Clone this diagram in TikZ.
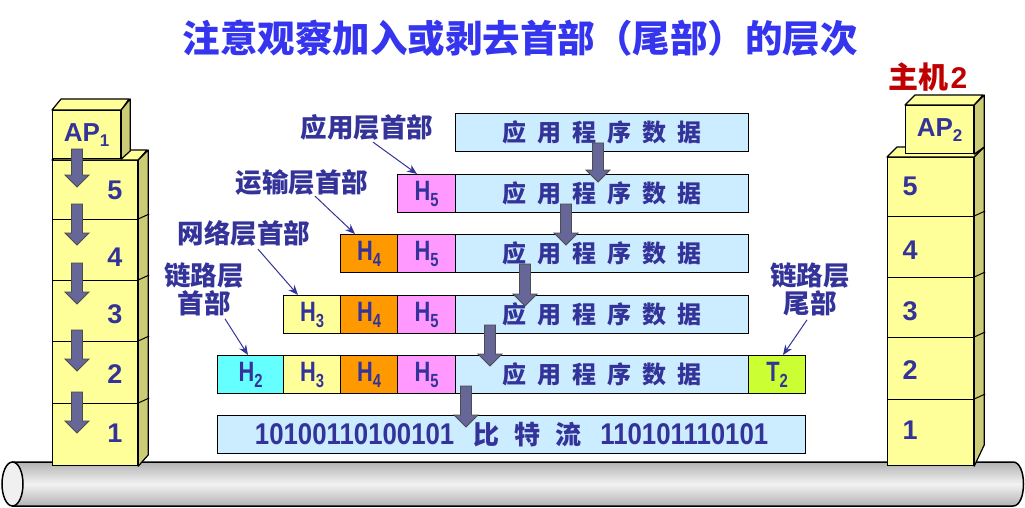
\documentclass[tikz,border=0pt]{standalone}
\usepackage{fontspec}
\usepackage{graphicx}
\setmainfont{Liberation Sans}
\newfontfamily\cjk{Noto Sans CJK SC}
\usetikzlibrary{arrows.meta,calc}
\definecolor{txt}{HTML}{333399}
\definecolor{ttl}{HTML}{3535F0}
\definecolor{redt}{HTML}{C00000}
\definecolor{stk}{HTML}{FFFF99}
\definecolor{stkside}{HTML}{CCCC77}
\definecolor{datac}{HTML}{CCECFF}
\definecolor{hfive}{HTML}{FF99FF}
\definecolor{hfour}{HTML}{FF9900}
\definecolor{hthree}{HTML}{FFFF99}
\definecolor{htwo}{HTML}{66FFFF}
\definecolor{ttwo}{HTML}{CCFF33}
\definecolor{arrc}{HTML}{666699}
\newcommand\hl[2]{\scalebox{0.78}[1]{\fontsize{28}{28}\selectfont\bfseries #1\raisebox{-6pt}{\fontsize{19}{19}\selectfont #2}}}
\newcommand\gp{\hspace{11pt}}
\newcommand\yy{{\cjk\bfseries\fontsize{24}{24}\selectfont 应\gp 用\gp 程\gp 序\gp 数\gp 据}}
\newcommand\darr[3]{\filldraw[arrst] (#1-5.5,#2) -- (#1+5.5,#2) -- (#1+5.5,#3-12) -- (#1+12,#3-12) -- (#1,#3) -- (#1-12,#3-12) -- (#1-5.5,#3-12) -- cycle;}
\begin{document}
\begin{tikzpicture}[x=1pt,y=-1pt,
  cell/.style={draw=black, line width=1.2pt, inner sep=0pt, anchor=north west, minimum height=38, text=txt},
  layer/.style={draw=black, line width=1.2pt, fill=stk, inner sep=0pt, anchor=north west, text=txt},
  sidef/.style={draw=black, line width=1.2pt, fill=stkside, line join=round},
  topf/.style={draw=black, line width=1.2pt, fill=stk, line join=round},
  tick/.style={draw=black, line width=1pt},
  num/.style={text=txt, font=\fontsize{27}{27}\selectfont\bfseries, inner sep=0pt},
  lbl/.style={text=txt, font=\cjk\bfseries\fontsize{26.5}{28}\selectfont, align=center, inner sep=0pt},
  la/.style={draw=txt, line width=1pt, -{Stealth[length=10pt,width=8pt]}},
  arrst/.style={fill=arrc, draw=black!70, line width=0.8pt, line join=miter}]
\useasboundingbox (0,0) rectangle (1025,508);

% title
\node[text=ttl, font=\cjk\bfseries\fontsize{37.5}{38}\selectfont, inner sep=0pt] (title) at (520,38) {注意观察加入或剥去首部（尾部）的层次};
\node[text=redt, inner sep=0pt] (host2) at (928,77) {{\cjk\bfseries\fontsize{30}{30}\selectfont 主机}\hspace{2pt}{\fontsize{30}{30}\selectfont\bfseries 2}};

% pipe
\shade[top color=gray!60, bottom color=gray!60, middle color=gray!10]
  (12,462) -- (1013,462) .. controls (1027,462) and (1027,506) .. (1013,506) -- (12,506) -- cycle;
\draw[line width=1.5pt] (12,462) -- (1013,462) .. controls (1027,462) and (1027,506) .. (1013,506) -- (12,506);
\draw[line width=1.5pt, fill=gray!12] (12.5,484) ellipse [x radius=10.5, y radius=22];

% left stack
\node[layer, minimum width=85, minimum height=59] (L5) at (52,160) {};
\node[layer, minimum width=85, minimum height=61] (L4) at (52,219) {};
\node[layer, minimum width=85, minimum height=61] (L3) at (52,280) {};
\node[layer, minimum width=85, minimum height=62] (L2) at (52,341) {};
\node[layer, minimum width=85, minimum height=62] (L1) at (52,403) {};
\filldraw[topf] (L5.north west) -- ++(10,-10) -- ++(85,0) -- (L5.north east) -- cycle;
\filldraw[sidef] (L5.north east) -- ++(10,-10) -- ++(0,305) -- (L1.south east) -- cycle;
\draw[tick] (L4.north east) -- ++(11,-5);
\draw[tick] (L3.north east) -- ++(11,-5);
\draw[tick] (L2.north east) -- ++(11,-5);
\draw[tick] (L1.north east) -- ++(11,-5);
\node[layer, minimum width=68, minimum height=48] (AP1) at (52,110) {\fontsize{26}{26}\selectfont\bfseries AP\raisebox{-5pt}{\fontsize{17}{17}\selectfont 1}};
\filldraw[topf] (AP1.north west) -- ++(9,-11) -- ++(68,0) -- (AP1.north east) -- cycle;
\filldraw[sidef] (AP1.north east) -- ++(9,-11) -- ++(0,52) -- (AP1.south east) -- cycle;
\node[num] (ln5) at (115,190) {5};
\node[num] (ln4) at (115,257) {4};
\node[num] (ln3) at (115,314) {3};
\node[num] (ln2) at (115,374) {2};
\node[num] (ln1) at (115,433) {1};
\darr{77}{149}{187}
\darr{77}{204}{245}
\darr{77}{263}{304}
\darr{77}{330}{371}
\darr{77}{392}{433}

% right stack
\node[layer, minimum width=86, minimum height=59] (R5) at (887,157) {};
\node[layer, minimum width=86, minimum height=61] (R4) at (887,216) {};
\node[layer, minimum width=86, minimum height=60] (R3) at (887,277) {};
\node[layer, minimum width=86, minimum height=62] (R2) at (887,337) {};
\node[layer, minimum width=86, minimum height=66] (R1) at (887,399) {};
\filldraw[topf] (R5.north west) -- ++(10,-10) -- ++(86,0) -- (R5.north east) -- cycle;
\filldraw[sidef] (R5.north east) -- ++(10,-10) -- ++(0,298) -- (R1.south east) -- cycle;
\draw[tick] (R4.north east) -- ++(11,-5);
\draw[tick] (R3.north east) -- ++(11,-5);
\draw[tick] (R2.north east) -- ++(11,-5);
\draw[tick] (R1.north east) -- ++(11,-5);
\node[layer, minimum width=68, minimum height=48] (AP2) at (905,105) {\fontsize{26}{26}\selectfont\bfseries AP\raisebox{-5pt}{\fontsize{17}{17}\selectfont 2}};
\filldraw[topf] (AP2.north west) -- ++(10,-10) -- ++(68,0) -- (AP2.north east) -- cycle;
\filldraw[sidef] (AP2.north east) -- ++(10,-10) -- ++(0,52) -- (AP2.south east) -- cycle;
\node[num] (rn5) at (910,186) {5};
\node[num] (rn4) at (910,250) {4};
\node[num] (rn3) at (910,311) {3};
\node[num] (rn2) at (910,370) {2};
\node[num] (rn1) at (910,430) {1};

% rows
\node[cell, fill=datac, minimum width=293] (d1) at (455,113) {\yy};

\node[cell, fill=hfive, minimum width=58] (r2h5) at (397,174) {\hl{H}{5}};
\node[cell, fill=datac, minimum width=293] (d2) at (455,174) {\yy};

\node[cell, fill=hfour, minimum width=57] (r3h4) at (340,234) {\hl{H}{4}};
\node[cell, fill=hfive, minimum width=58] (r3h5) at (397,234) {\hl{H}{5}};
\node[cell, fill=datac, minimum width=293] (d3) at (455,234) {\yy};

\node[cell, fill=hthree, minimum width=57] (r4h3) at (283,295) {\hl{H}{3}};
\node[cell, fill=hfour, minimum width=57] (r4h4) at (340,295) {\hl{H}{4}};
\node[cell, fill=hfive, minimum width=58] (r4h5) at (397,295) {\hl{H}{5}};
\node[cell, fill=datac, minimum width=293] (d4) at (455,295) {\yy};

\node[cell, fill=htwo, minimum width=66] (r5h2) at (217,355) {\hl{H}{2}};
\node[cell, fill=hthree, minimum width=57] (r5h3) at (283,355) {\hl{H}{3}};
\node[cell, fill=hfour, minimum width=57] (r5h4) at (340,355) {\hl{H}{4}};
\node[cell, fill=hfive, minimum width=58] (r5h5) at (397,355) {\hl{H}{5}};
\node[cell, fill=datac, minimum width=293] (d5) at (455,355) {\yy};
\node[cell, fill=ttwo, minimum width=57] (r5t2) at (748,355) {\hl{T}{2}};

\node[cell, fill=datac, minimum width=588] (bits) at (217,415) {\scalebox{0.86}[1]{\fontsize{30}{30}\selectfont\bfseries 10100110100101}\hspace{19pt}{\cjk\bfseries\fontsize{26}{26}\selectfont 比\hspace{15pt}特\hspace{15pt}流}\hspace{19pt}\scalebox{0.86}[1]{\fontsize{30}{30}\selectfont\bfseries 110101110101}};

% data-flow arrows
\darr{598}{143}{182}
\darr{566}{204}{245}
\darr{525}{264}{306}
\darr{490}{325}{366}
\darr{466}{386}{427}

% labels
\node[lbl] (labA) at (367,127) {应用层首部};
\node[lbl] (labB) at (302,182) {运输层首部};
\node[lbl] (labC) at (244,233) {网络层首部};
\node[lbl] (labD) at (204,289) {链路层\\首部};
\node[lbl] (labE) at (810,289) {链路层\\尾部};
\draw[la] ($(labA.south)+(6,2)$) -- ($(r2h5.north west)+(20,0)$);
\draw[la] ($(labB.south)+(13,1)$) -- ($(r3h4.north west)+(15,0)$);
\draw[la] ($(labC.south)+(14,3)$) -- ($(r4h3.north west)+(15,0)$);
\draw[la] ($(labD.south)+(21,3)$) -- ($(r5h2.north west)+(31,0)$);
\draw[la] ($(labE.south)+(-3,4)$) -- ($(r5t2.north west)+(35,0)$);
\end{tikzpicture}
\end{document}
